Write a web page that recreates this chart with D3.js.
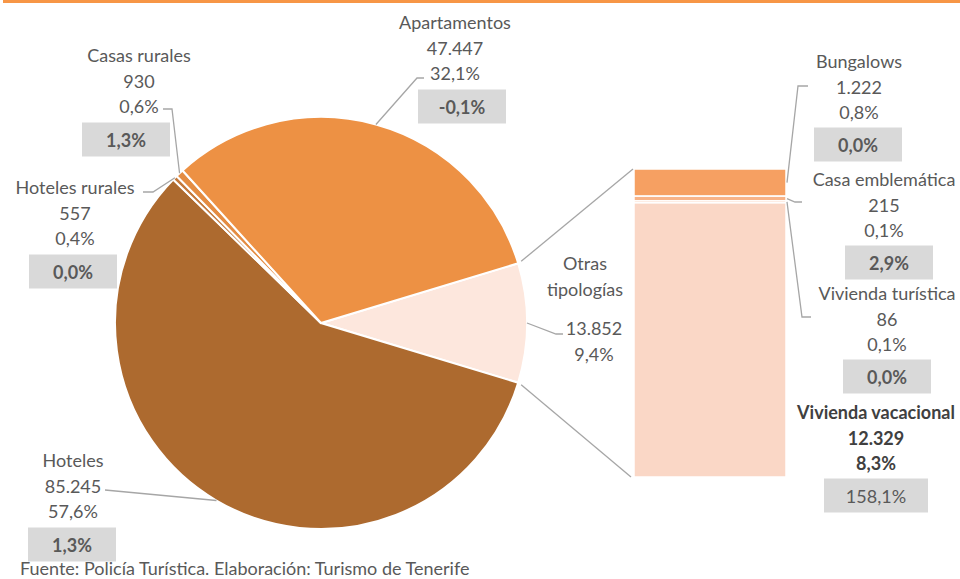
<!DOCTYPE html>
<html>
<head>
<meta charset="utf-8">
<script src="https://cdn.jsdelivr.net/npm/d3@7"></script>
<style>
  body { margin: 0; background: #fff; }
  svg { display: block; font-family: Lato, 'Open Sans', sans-serif; }
  .lbl { fill: #595959; font-size: 18px; }
  .box { fill: #d9d9d9; }
  .boxtxt { fill: #595959; font-size: 18px; font-weight: bold; }
  .leader { fill: none; stroke: #a6a6a6; stroke-width: 1.3; }
</style>
</head>
<body>
<div id="chart"></div>
<script>
// main pie
const pieCats = ['Otras tipologías', 'Hoteles', 'Hoteles rurales', 'Casas rurales', 'Apartamentos'];
const pieValues = [13852, 85245, 557, 930, 47447];
const pieVar = [null, '1,3%', '0,0%', '1,3%', '-0,1%'];
const pieColors = ['#fde7dd', '#ad6a2f', '#c4783a', '#e48c42', '#ed9144'];

// breakdown of "Otras tipologías"
const barCats = ['Bungalows', 'Casa emblemática', 'Vivienda turística', 'Vivienda vacacional'];
const barValues = [1222, 215, 86, 12329];
const barVar = ['0,0%', '2,9%', '0,0%', '158,1%'];
const barColors = ['#f6a062', '#f7b388', '#f9c4a6', '#fad7c6'];

const sourceText = 'Fuente: Policía Turística. Elaboración: Turismo de Tenerife';

const width = 960;
const height = 579;

const es = d3.formatLocale({ decimal: ',', thousands: '.', grouping: [3], currency: ['', ' €'] });
const fmtNum = es.format(',d');
const fmtPct = es.format('.1%');

const total = d3.sum(pieValues);

// label layout: centre x, first line y, elbow points of the leader
const pieLayout = {
  'Otras tipologías': { x: 590, y: 263, lines2: 328, elbow: [[556, 334], [563, 334]] },
  'Hoteles': { x: 73, y: 460, box: 72, elbow: [[105, 490]] },
  'Hoteles rurales': { x: 75, y: 187, box: 73, elbow: [[153, 192], [143, 192]] },
  'Casas rurales': { x: 139, y: 55, box: 126, elbow: [[172, 109], [163, 109]] },
  'Apartamentos': { x: 455, y: 22, box: 462, elbow: [[417, 78], [424, 78]] },
};
const barLayout = {
  'Bungalows': { x: 859, y: 61, box: 858, elbow: [[798, 86], [808, 86]] },
  'Casa emblemática': { x: 884, y: 179, box: 889, elbow: [[795, 202], [802, 202]] },
  'Vivienda turística': { x: 887, y: 293, box: 887, elbow: [[802, 317], [811, 317]] },
  'Vivienda vacacional': { x: 876, y: 412, box: 876, elbow: null },
};

const svg = d3.select('#chart')
  .append('svg')
  .attr('width', width)
  .attr('height', height);

// orange rule at top
svg.append('line')
  .attr('x1', 3).attr('x2', width)
  .attr('y1', 1.5).attr('y2', 1.5)
  .attr('stroke', '#f79646')
  .attr('stroke-width', 3);

const cx = 321, cy = 323, r = 206;
const otherSpan = pieValues[0] / total * 2 * Math.PI;
const start = Math.PI / 2 - otherSpan / 2;

const pie = d3.pie().sort(null).value((d) => d.value)
  .startAngle(start).endAngle(start + 2 * Math.PI);
const pieData = pie(pieCats.map((c, i) => ({ cat: c, value: pieValues[i], i })));

const arc = d3.arc().innerRadius(0).outerRadius(r);
const edge = d3.arc().innerRadius(r).outerRadius(r);

const g = svg.append('g').attr('transform', `translate(${cx},${cy})`);
g.selectAll('path')
  .data(pieData)
  .join('path')
  .attr('d', arc)
  .attr('fill', (d) => pieColors[d.data.i])
  .attr('stroke', '#fff')
  .attr('stroke-width', 2);

// stacked bar
const barX0 = 634, barX1 = 786;
const y = d3.scaleLinear().domain([0, d3.sum(barValues)]).range([169, 477]);
const cum = d3.cumsum(barValues);
const bars = barCats.map((c, i) => ({ cat: c, value: barValues[i], y0: cum[i] - barValues[i], y1: cum[i], i }));

svg.append('g')
  .selectAll('rect')
  .data(bars)
  .join('rect')
  .attr('x', barX0)
  .attr('width', barX1 - barX0)
  .attr('y', (d) => y(d.y0))
  .attr('height', (d) => y(d.y1) - y(d.y0))
  .attr('fill', (d) => barColors[d.i])
  .attr('stroke', '#fff')
  .attr('stroke-width', 1.5);

// lines joining pie slice to bar
const oth = pieData[0];
const pA = [cx + r * Math.sin(oth.startAngle), cy - r * Math.cos(oth.startAngle)];
const pB = [cx + r * Math.sin(oth.endAngle), cy - r * Math.cos(oth.endAngle)];
svg.append('line').attr('class', 'leader')
  .attr('x1', pA[0] + 3).attr('y1', pA[1] - 2).attr('x2', barX0 - 1).attr('y2', y(0));
svg.append('line').attr('class', 'leader')
  .attr('x1', pB[0] + 3).attr('y1', pB[1] + 2).attr('x2', barX0 - 3).attr('y2', y.range()[1]);

const lh = 25.5;

function labelBlock(x, y0, lines, bold, dark) {
  const t = svg.append('g');
  lines.forEach((s, k) => {
    t.append('text')
      .attr('class', 'lbl')
      .attr('x', x)
      .attr('y', y0 + k * lh)
      .attr('text-anchor', 'middle')
      .attr('dominant-baseline', 'central')
      .style('font-weight', bold ? 'bold' : null)
      .style('fill', dark ? '#404040' : null)
      .text(s);
  });
}

function varBox(x, yc, txt, bold) {
  const w = txt.length > 5 ? 104 : 88;
  svg.append('rect').attr('class', 'box')
    .attr('x', x - w / 2).attr('y', yc - 17).attr('width', w).attr('height', 34);
  svg.append('text').attr('class', 'boxtxt')
    .attr('x', x).attr('y', yc)
    .attr('text-anchor', 'middle')
    .attr('dominant-baseline', 'central')
    .style('font-weight', bold ? 'bold' : 'normal')
    .text(txt);
}

const line = d3.line();

pieData.forEach((d) => {
  const c = d.data.cat;
  const L = pieLayout[c];
  const [ex, ey] = edge.centroid(d);
  const pts = [[cx + ex, cy + ey], ...L.elbow];
  svg.append('path').attr('class', 'leader').attr('d', line(pts));
  if (c === 'Otras tipologías') {
    labelBlock(585, L.y, ['Otras', 'tipologías']);
    labelBlock(L.x + 4, L.lines2, [fmtNum(d.value), fmtPct(d.value / total)]);
  } else {
    labelBlock(L.x, L.y, [c, fmtNum(d.value), fmtPct(d.value / total)]);
    varBox(L.box, L.y + 3 * lh + 8, pieVar[d.data.i], true);
  }
});

bars.forEach((d) => {
  const L = barLayout[d.cat];
  const last = d.i === bars.length - 1;
  if (L.elbow) {
    const pts = [[barX1 + 1, y((d.y0 + d.y1) / 2)], ...L.elbow];
    svg.append('path').attr('class', 'leader').attr('d', line(pts));
  }
  labelBlock(L.x, L.y, [d.cat, fmtNum(d.value), fmtPct(d.value / total)], last, last);
  varBox(L.box, L.y + 3 * lh + 7, barVar[d.i], !last);
});

svg.append('text')
  .attr('class', 'lbl')
  .attr('x', 20)
  .attr('y', 568)
  .attr('dominant-baseline', 'central')
  .text(sourceText);
</script>
</body>
</html>
